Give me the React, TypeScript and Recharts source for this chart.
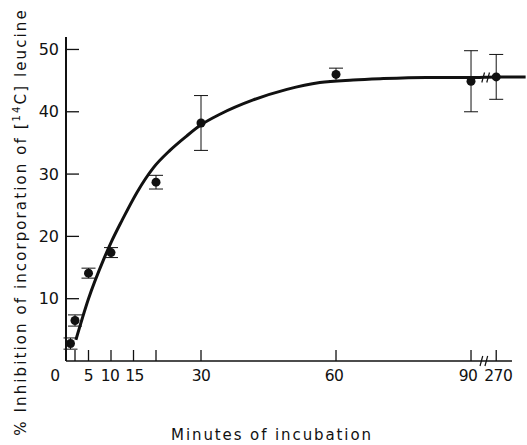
import React from "react";
import {
    ComposedChart,
    Line,
    Scatter,
    ErrorBar,
    XAxis,
    YAxis,
    ReferenceLine,
} from "recharts";

// measured points (minutes, % inhibition, error bar half-height)
const minutes = [1, 2, 5, 10, 20, 30, 60, 90, 270];
const inhibition = [2.8, 6.5, 14.1, 17.4, 28.7, 38.2, 46.0, 44.9, 45.6];
const errors = [0.9, 0.9, 0.8, 0.8, 1.1, 4.4, 1.0, 4.9, 3.6];

// hand drawn curve
const curveMinutes = [2.2, 5, 8.3, 10, 12.4, 15.8, 19.4, 23.1, 26.8, 30, 34.2, 41.6, 49.1, 56.4, 63.8, 69.8, 80, 90, 270, 480];
const curveValues = [3.4, 10, 16.2, 19, 22.5, 27.1, 31, 33.8, 36.1, 37.9, 39.6, 41.9, 43.6, 44.7, 45.1, 45.3, 45.5, 45.5, 45.6, 45.6];

const xTickMinutes = [0, 2, 5, 10, 15, 20, 30, 60, 90, 270];
const xTickLabels = ["0", "", "5", "10", "15", "", "30", "60", "90", "270"];
const xLabelShift = [-11, 0, 0, -1, 1, 0, 0, -2, -3, 2];
const yTicks = [10, 20, 30, 40, 50];

const FONT = "'DejaVu Sans', sans-serif";
const INK = "#111";

// axis is broken after 90 min, so anything later is squeezed in
const toPos = (m: number) => (m <= 90 ? m : 90 + ((m - 90) * 5.6) / 180);

const points = minutes.map((m, i) => ({ pos: toPos(m), value: inhibition[i], err: errors[i] }));
const curve = curveMinutes.map((m, i) => ({ pos: toPos(m), value: curveValues[i] }));
const xTicks = xTickMinutes.map(toPos);

const XTick = (props: any) => {
    const { x, y, payload } = props;
    const idx = xTicks.findIndex((t) => Math.abs(t - payload.value) < 0.001);
    const label = idx >= 0 ? xTickLabels[idx] : "";
    const dx = idx >= 0 ? xLabelShift[idx] : 0;
    return (
        <g>
            <line x1={x} x2={x} y1={y} y2={y - 11} stroke={INK} strokeWidth={1.3} />
            {label && (
                <text x={x + dx} y={y + 15} textAnchor="middle" dominantBaseline="central"
                    fontFamily={FONT} fontSize={15.5} letterSpacing={-0.5} fill={INK}>
                    {label}
                </text>
            )}
        </g>
    );
};

const YTick = (props: any) => {
    const { x, y, payload } = props;
    return (
        <g>
            <line x1={x} x2={x + 13} y1={y} y2={y} stroke={INK} strokeWidth={1.3} />
            <text x={x - 7} y={y} textAnchor="end" dominantBaseline="central"
                fontFamily={FONT} fontSize={16} fill={INK}>
                {payload.value}
            </text>
        </g>
    );
};

const Dot = (props: any) => <circle cx={props.cx} cy={props.cy} r={4.5} fill={INK} />;

const slash = (x: number, y: number) => [
    { x: x, y: y - 0.8 },
    { x: x + 0.6, y: y + 0.8 },
];

export default function App() {
    return (
        <div style={{ position: "absolute", left: 0, top: 0, width: 527, height: 445, background: "#fff" }}>
            <ComposedChart width={527} height={445} margin={{ top: 37, right: 0, bottom: 54, left: 16 }}>
                <XAxis
                    type="number"
                    dataKey="pos"
                    domain={[0, 102.44]}
                    ticks={xTicks}
                    interval={0}
                    axisLine={false}
                    tickLine={false}
                    tickSize={0}
                    tickMargin={0}
                    tick={<XTick />}
                    allowDataOverflow
                />
                <YAxis
                    type="number"
                    domain={[0, 52]}
                    ticks={yTicks}
                    width={50}
                    axisLine={{ stroke: INK, strokeWidth: 2 }}
                    tickLine={false}
                    tickSize={0}
                    tickMargin={0}
                    tick={<YTick />}
                />
                <ReferenceLine segment={[{ x: 0, y: 0 }, { x: 99.1, y: 0 }]} stroke={INK} strokeWidth={1.5} ifOverflow="visible" />
                <ReferenceLine segment={slash(92, 0)} stroke={INK} strokeWidth={1.2} ifOverflow="visible" />
                <ReferenceLine segment={slash(93.1, 0)} stroke={INK} strokeWidth={1.2} ifOverflow="visible" />
                <Line
                    data={curve}
                    dataKey="value"
                    type="monotone"
                    stroke={INK}
                    strokeWidth={3}
                    dot={false}
                    isAnimationActive={false}
                />
                <ReferenceLine segment={slash(92.4, 45.5)} stroke={INK} strokeWidth={1.2} ifOverflow="visible" />
                <ReferenceLine segment={slash(93.5, 45.5)} stroke={INK} strokeWidth={1.2} ifOverflow="visible" />
                <Scatter data={points} dataKey="value" shape={<Dot />} isAnimationActive={false}>
                    <ErrorBar dataKey="err" direction="y" width={7} stroke={INK} strokeWidth={1} />
                </Scatter>
            </ComposedChart>
            <svg width={527} height={445} style={{ position: "absolute", left: 0, top: 0, pointerEvents: "none" }}>
                <text x={272} y={435} textAnchor="middle" dominantBaseline="central"
                    fontFamily={FONT} fontSize={15} letterSpacing={1.9} fill={INK}>
                    Minutes of incubation
                </text>
                <text x={21} y={222} transform="rotate(-90 21 222)" textAnchor="middle" dominantBaseline="central"
                    fontFamily={FONT} fontSize={15} letterSpacing={2.1} fill={INK}>
                    % Inhibition of incorporation of [<tspan dy={-5} fontSize={10}>14</tspan><tspan dy={5}>C] leucine</tspan>
                </text>
            </svg>
        </div>
    );
}
